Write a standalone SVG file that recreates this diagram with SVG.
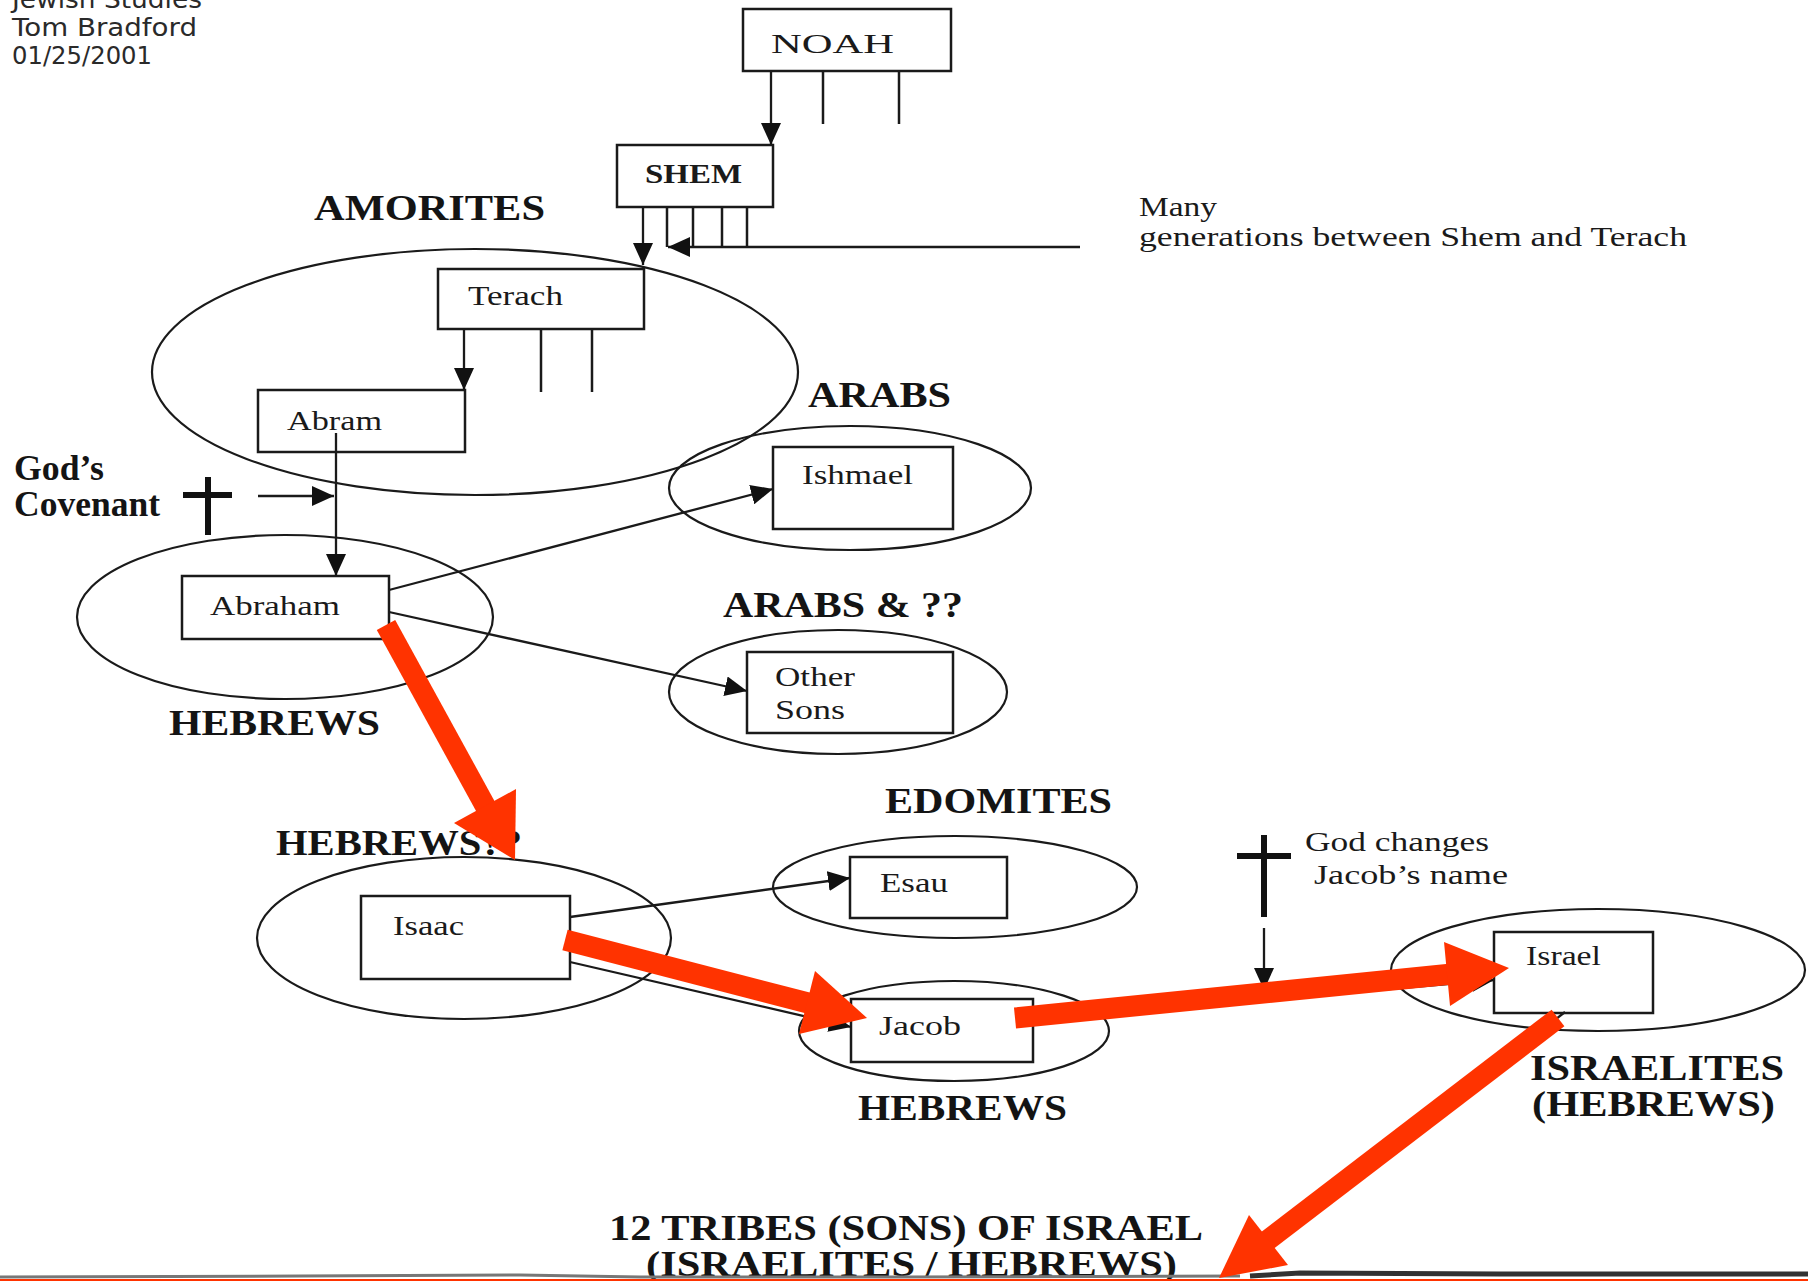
<svg xmlns="http://www.w3.org/2000/svg" width="1808" height="1281" viewBox="0 0 1808 1281">
<defs>
<style>
.bx{fill:#fff;stroke:#1a1a1a;stroke-width:2.5}
.el{fill:none;stroke:#1a1a1a;stroke-width:2.2}
.ln{fill:none;stroke:#1a1a1a;stroke-width:2.5}
.ar{fill:none;stroke:#1a1a1a;stroke-width:2.3;marker-end:url(#ah)}
.hdr{font-family:"DejaVu Sans","Liberation Sans",sans-serif;font-size:25px;fill:#2a2a2a}
.lbl{font-family:"Liberation Serif","Times New Roman",serif;font-weight:bold;font-size:35px;fill:#141414}
.nt{font-family:"Liberation Serif","Times New Roman",serif;font-size:27px;fill:#1a1a1a}
.cross{fill:#111}
.red{fill:#ff3300}
.rs{stroke:#ff3300;stroke-width:21;fill:none}
</style>
<marker id="ah" markerWidth="22" markerHeight="20" refX="22" refY="10" orient="auto" markerUnits="userSpaceOnUse">
<path d="M0,0 L22,10 L0,20 z" fill="#111"/>
</marker>
</defs>
<rect width="1808" height="1281" fill="#fff"/>

<g id="header">
<text class="hdr" x="12" y="8" textLength="190" lengthAdjust="spacingAndGlyphs">Jewish Studies</text>
<text class="hdr" x="12" y="36" textLength="185" lengthAdjust="spacingAndGlyphs">Tom Bradford</text>
<text class="hdr" x="12" y="64" textLength="140" lengthAdjust="spacingAndGlyphs">01/25/2001</text>
</g>

<g id="noah">
<rect class="bx" x="743" y="9" width="208" height="62"/>
<text class="nt" x="771" y="53" font-size="34" textLength="123" lengthAdjust="spacingAndGlyphs">NOAH</text>
</g>

<g id="shem">
<rect class="bx" x="617" y="145" width="156" height="62"/>
<text class="nt" x="645" y="183" font-size="29" font-weight="bold" textLength="97" lengthAdjust="spacingAndGlyphs">SHEM</text>
</g>

<g id="many-generations">
<text class="nt" x="1139" y="216" textLength="78" lengthAdjust="spacingAndGlyphs">Many</text>
<text class="nt" x="1139" y="246" textLength="548" lengthAdjust="spacingAndGlyphs">generations between Shem and Terach</text>
</g>

<g id="amorites">
<ellipse class="el" cx="475" cy="372" rx="323" ry="123"/>
<text class="lbl" x="314" y="220" textLength="231" lengthAdjust="spacingAndGlyphs">AMORITES</text>
</g>

<g id="terach">
<rect class="bx" x="438" y="269" width="206" height="60"/>
<text class="nt" x="468" y="305" textLength="95" lengthAdjust="spacingAndGlyphs">Terach</text>
</g>

<g id="abram">
<rect class="bx" x="258" y="390" width="207" height="62"/>
<text class="nt" x="287" y="430" textLength="95" lengthAdjust="spacingAndGlyphs">Abram</text>
</g>

<g id="gods-covenant">
<text class="lbl" x="14" y="480" font-size="24" textLength="90" lengthAdjust="spacingAndGlyphs">God’s</text>
<text class="lbl" x="14" y="516" font-size="24" textLength="146" lengthAdjust="spacingAndGlyphs">Covenant</text>
<rect class="cross" x="205" y="477" width="6" height="58"/>
<rect class="cross" x="183" y="492" width="49" height="6"/>
</g>

<g id="abraham">
<ellipse class="el" cx="285" cy="617" rx="208" ry="82"/>
<rect class="bx" x="182" y="576" width="207" height="63"/>
<text class="nt" x="210" y="615" textLength="130" lengthAdjust="spacingAndGlyphs">Abraham</text>
<text class="lbl" x="169" y="735" textLength="211" lengthAdjust="spacingAndGlyphs">HEBREWS</text>
</g>

<g id="ishmael">
<ellipse class="el" cx="850" cy="488" rx="181" ry="62"/>
<rect class="bx" x="773" y="447" width="180" height="82"/>
<text class="nt" x="802" y="484" textLength="111" lengthAdjust="spacingAndGlyphs">Ishmael</text>
<text class="lbl" x="808" y="407" textLength="143" lengthAdjust="spacingAndGlyphs">ARABS</text>
</g>

<g id="other-sons">
<ellipse class="el" cx="838" cy="692" rx="169" ry="62"/>
<rect class="bx" x="747" y="652" width="206" height="81"/>
<text class="nt" x="775" y="686" textLength="80" lengthAdjust="spacingAndGlyphs">Other</text>
<text class="nt" x="775" y="719" textLength="70" lengthAdjust="spacingAndGlyphs">Sons</text>
<text class="lbl" x="723" y="617" textLength="240" lengthAdjust="spacingAndGlyphs">ARABS &amp; ??</text>
</g>

<g id="isaac">
<ellipse class="el" cx="464" cy="938" rx="207" ry="81"/>
<rect class="bx" x="361" y="896" width="209" height="83"/>
<text class="nt" x="393" y="935" textLength="71" lengthAdjust="spacingAndGlyphs">Isaac</text>
<text class="lbl" x="276" y="855" textLength="246" lengthAdjust="spacingAndGlyphs">HEBREWS??</text>
</g>

<g id="esau">
<ellipse class="el" cx="955" cy="887" rx="182" ry="51"/>
<rect class="bx" x="850" y="857" width="157" height="61"/>
<text class="nt" x="880" y="892" textLength="68" lengthAdjust="spacingAndGlyphs">Esau</text>
<text class="lbl" x="885" y="813" textLength="227" lengthAdjust="spacingAndGlyphs">EDOMITES</text>
</g>

<g id="jacob">
<ellipse class="el" cx="954" cy="1031" rx="155" ry="50"/>
<rect class="bx" x="851" y="999" width="182" height="63"/>
<text class="nt" x="879" y="1035" textLength="82" lengthAdjust="spacingAndGlyphs">Jacob</text>
<text class="lbl" x="858" y="1120" textLength="209" lengthAdjust="spacingAndGlyphs">HEBREWS</text>
</g>

<g id="god-changes">
<rect class="cross" x="1261" y="835" width="6" height="82"/>
<rect class="cross" x="1237" y="853" width="54" height="6"/>
<text class="nt" x="1305" y="851" textLength="184" lengthAdjust="spacingAndGlyphs">God changes</text>
<text class="nt" x="1314" y="884" textLength="194" lengthAdjust="spacingAndGlyphs">Jacob’s name</text>
</g>

<g id="israel">
<ellipse class="el" cx="1598" cy="970" rx="207" ry="61"/>
<rect class="bx" x="1494" y="932" width="159" height="81"/>
<text class="nt" x="1526" y="965" textLength="75" lengthAdjust="spacingAndGlyphs">Israel</text>
<text class="lbl" x="1530" y="1080" textLength="254" lengthAdjust="spacingAndGlyphs">ISRAELITES</text>
<text class="lbl" x="1532" y="1116" textLength="243" lengthAdjust="spacingAndGlyphs">(HEBREWS)</text>
</g>

<g id="twelve-tribes">
<text class="lbl" x="609" y="1240" textLength="594" lengthAdjust="spacingAndGlyphs">12 TRIBES (SONS) OF ISRAEL</text>
<text class="lbl" x="646" y="1276" textLength="531" lengthAdjust="spacingAndGlyphs">(ISRAELITES / HEBREWS)</text>
</g>

<g id="connectors">
<line class="ar" x1="771" y1="71" x2="771" y2="145"/>
<line class="ln" x1="823" y1="71" x2="823" y2="124"/>
<line class="ln" x1="899" y1="71" x2="899" y2="124"/>
<line class="ar" x1="643" y1="207" x2="643" y2="265"/>
<line class="ln" x1="667" y1="207" x2="667" y2="247"/>
<line class="ln" x1="693" y1="207" x2="693" y2="247"/>
<line class="ln" x1="722" y1="207" x2="722" y2="247"/>
<line class="ln" x1="747" y1="207" x2="747" y2="247"/>
<line class="ar" x1="1080" y1="247" x2="668" y2="247"/>
<line class="ar" x1="464" y1="329" x2="464" y2="390"/>
<line class="ln" x1="541" y1="329" x2="541" y2="392"/>
<line class="ln" x1="592" y1="329" x2="592" y2="392"/>
<line class="ar" x1="336" y1="433" x2="336" y2="576"/>
<line class="ar" x1="258" y1="496" x2="334" y2="496"/>
<line class="ar" x1="389" y1="590" x2="773" y2="489"/>
<line class="ar" x1="389" y1="612" x2="747" y2="691"/>
<line class="ar" x1="570" y1="917" x2="850" y2="878"/>
<line class="ar" x1="570" y1="962" x2="851" y2="1027"/>
<line class="ar" x1="1264" y1="928" x2="1264" y2="990"/>
<line class="ar" x1="1033" y1="1020" x2="1494" y2="980"/>
<line class="ar" x1="1565" y1="1012" x2="1232" y2="1274"/>
</g>

<g id="scan-edge">
<path d="M0,1277 L300,1276 L520,1275 L640,1277 L900,1277 L1240,1276" stroke="#777" stroke-width="3" fill="none"/>
<path d="M1250,1276 L1300,1273 L1500,1274 L1808,1274" stroke="#333" stroke-width="5" fill="none"/>
<rect class="red" x="0" y="1279" width="1808" height="2"/>
</g>

<g id="red-arrows">
<line class="rs" x1="386" y1="625" x2="488" y2="811"/>
<polygon class="red" points="515,860 516,789 454,823"/>
<line class="rs" x1="565" y1="940" x2="812" y2="1004"/>
<polygon class="red" points="867,1018 815,971 799,1034"/>
<line class="rs" x1="1015" y1="1018" x2="1452" y2="974"/>
<polygon class="red" points="1509,968 1444,942 1450,1006"/>
<line class="rs" x1="1558" y1="1018" x2="1264" y2="1243"/>
<polygon class="red" points="1219,1278 1288,1265 1249,1215"/>
</g>
</svg>
